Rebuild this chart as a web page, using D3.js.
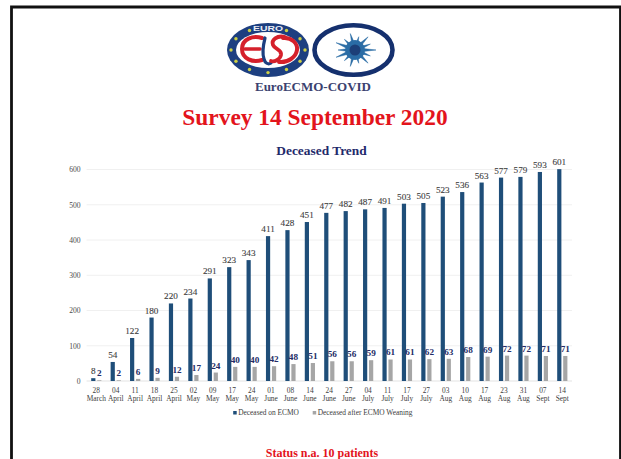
<!DOCTYPE html>
<html>
<head>
<meta charset="utf-8">
<script src="https://cdn.jsdelivr.net/npm/d3@7"></script>
<style>
html,body{margin:0;padding:0;background:#fff;overflow:hidden}
svg{display:block}
text{font-family:"Liberation Serif",serif}
</style>
</head>
<body>
<svg id="chart" width="621" height="459"></svg>
<script>
// Survey figures
const dayLabels = ["28","04","11","18","25","02","09","17","24","01","08","14","24","27","04","11","17","27","03","10","17","23","31","07","14"];
const monthLabels = ["March","April","April","April","April","May","May","May","May","June","June","June","June","June","July","July","July","July","Aug","Aug","Aug","Aug","Aug","Sept","Sept"];
const deceasedOnEcmo = [8,54,122,180,220,234,291,323,343,411,428,451,477,482,487,491,503,505,523,536,563,577,579,593,601];
const deceasedAfterWeaning = [2,2,6,9,12,17,24,40,40,42,48,51,56,56,59,61,61,62,63,68,69,72,72,71,71];
const yTicks = [0,100,200,300,400,500,600];
const seriesNames = ["Deceased on ECMO","Deceased after ECMO Weaning"];

const navy = "#1f4e79", grey = "#a6a6a6", labelNavy = "#232c66", labelGrey = "#404040";
const svg = d3.select("#chart");

// Page frame: heavy rule along the top, left and right edges
svg.append("path")
  .attr("d","M11.5 459V7H620.5V459")
  .attr("fill","none").attr("stroke","#111").attr("stroke-width",2.8);

// ELSO roundel
const logoBlue = "#1d3f80", logoRed = "#d5202b";
const euro = svg.append("g").attr("transform","translate(268,50)");
euro.append("ellipse").attr("rx",41).attr("ry",27).attr("fill",logoBlue);
euro.append("ellipse").attr("rx",32).attr("ry",18).attr("fill","#fff");
d3.range(12).forEach(i=>{
  if(i===0) return;
  const a = -Math.PI/2 + i*Math.PI*2/12;
  euro.append("circle").attr("cx",37*Math.cos(a)).attr("cy",22.6*Math.sin(a)).attr("r",1.7).attr("fill","#cdd045");
});
euro.append("text").attr("y",-18.6).attr("text-anchor","middle")
  .attr("font-size",8).attr("font-weight",700).attr("fill","#e8ecf4")
  .attr("textLength",30).attr("lengthAdjust","spacingAndGlyphs")
  .style("font-family","'Liberation Sans',sans-serif").text("EURO");
const monogram = euro.append("g").attr("fill","none").attr("stroke-linecap","round");
[
  ["M-6 -12C-15 -15 -26 -11 -26 -1C-26 9 -15 13 -6 10",logoRed,4],
  ["M-23 -1H-8",logoRed,3.6],
  ["M-3 -12C-5 -4 -6 3 -4 9C-3 13 0 15 3 13",logoBlue,3.2],
  ["M17 -13C9 -15 3 -10 5 -5C7 0 14 -1 13 5C12 10 6 12 3 11",logoRed,3.8],
  ["M15 -12C24 -13 30 -6 29 0C28 7 20 13 11 12",logoRed,4]
].forEach(([d,colour,w])=>monogram.append("path").attr("d",d).attr("stroke",colour).attr("stroke-width",w));

// Virus emblem
const virusBlue = "#2a6ca5";
const virus = svg.append("g").attr("transform","translate(353.5,50)");
virus.append("ellipse").attr("rx",39).attr("ry",24.8).attr("fill","#fff").attr("stroke","#15306e").attr("stroke-width",4.6);
d3.range(14).forEach(i=>{
  const a = i*Math.PI*2/14, r = i%2 ? 17 : 21;
  virus.append("path")
    .attr("d",`M${-2.4*Math.sin(a)} ${2.4*Math.cos(a)}L${r*Math.cos(a)} ${r*0.8*Math.sin(a)}L${2.4*Math.sin(a)} ${-2.4*Math.cos(a)}Z`)
    .attr("transform","translate(1.5,0)")
    .attr("fill",virusBlue).attr("stroke",virusBlue).attr("stroke-width",0.5);
});
virus.append("circle").attr("cx",1.5).attr("r",10).attr("fill",virusBlue);
virus.append("circle").attr("cx",1.5).attr("r",5.5).attr("fill","#1c3f78");

// Headings
svg.append("text").attr("x",313).attr("y",90.5).attr("text-anchor","middle")
  .attr("font-size",13).attr("font-weight",700).attr("fill","#3b4270").text("EuroECMO-COVID");
svg.append("text").attr("x",315).attr("y",125).attr("text-anchor","middle")
  .attr("font-size",23.4).attr("font-weight",700).attr("fill","#e3141c").text("Survey 14 September 2020");
svg.append("text").attr("x",321.5).attr("y",155).attr("text-anchor","middle")
  .attr("font-size",13.4).attr("font-weight",700).attr("fill","#1f2a6b").text("Deceased Trend");

// Scales
const x = d3.scaleBand().domain(d3.range(dayLabels.length)).range([86.6,572]);
const y = d3.scaleLinear().domain([0,600]).range([381,169.5]);
const barW = 4.2, gap = 6;
const cx = i => x(i) + x.bandwidth()/2;

// Value axis with horizontal gridlines
const yAxis = svg.append("g").attr("transform","translate(86.6,0)")
  .call(d3.axisLeft(y).tickValues(yTicks).tickSize(0).tickPadding(6));
yAxis.select(".domain").remove();
yAxis.selectAll("text").attr("font-size",7.6).attr("fill","#4a4a4a").style("font-family","'Liberation Serif',serif");
svg.append("g").selectAll("line").data(yTicks).join("line")
  .attr("x1",86.6).attr("x2",572).attr("y1",d=>y(d)).attr("y2",d=>y(d))
  .attr("stroke",d=>d===0?"#dcdcdc":"#ececec").attr("stroke-width",0.8);

// Bars
svg.append("g").selectAll("rect").data(deceasedOnEcmo).join("rect")
  .attr("x",(d,i)=>cx(i)-gap/2-barW/2).attr("width",barW)
  .attr("y",d=>y(d)).attr("height",d=>y(0)-y(d)).attr("fill",navy);
svg.append("g").selectAll("rect").data(deceasedAfterWeaning).join("rect")
  .attr("x",(d,i)=>cx(i)+gap/2-barW/2).attr("width",barW)
  .attr("y",d=>y(d)).attr("height",d=>y(0)-y(d)).attr("fill",grey);

// Value labels
svg.append("g").selectAll("text").data(deceasedOnEcmo).join("text")
  .attr("x",(d,i)=>cx(i)-gap/2).attr("y",d=>y(d)-4).attr("text-anchor","middle")
  .attr("font-size",9.2).attr("fill",labelGrey).attr("stroke",labelGrey).attr("stroke-width",0.1).text(d=>d);
svg.append("g").selectAll("text").data(deceasedAfterWeaning).join("text")
  .attr("x",(d,i)=>cx(i)+gap/2).attr("y",d=>y(d)-4).attr("text-anchor","middle")
  .attr("font-size",9.2).attr("font-weight",700).attr("fill",labelNavy).text(d=>d);

// Category labels on two lines
const cats = svg.append("g").attr("font-size",7.4).attr("fill","#404040").attr("text-anchor","middle");
cats.selectAll("text.day").data(dayLabels).join("text").attr("class","day")
  .attr("x",(d,i)=>cx(i)).attr("y",392.5).text(d=>d);
cats.selectAll("text.month").data(monthLabels).join("text").attr("class","month")
  .attr("x",(d,i)=>cx(i)).attr("y",401).text(d=>d);

// Legend
const legend = svg.append("g").attr("font-size",7.4).attr("fill","#404040");
const legendX = [233.2,312.7];
seriesNames.forEach((name,i)=>{
  legend.append("rect").attr("x",legendX[i]).attr("y",411).attr("width",3.5).attr("height",3.5).attr("fill",i?grey:navy);
  legend.append("text").attr("x",legendX[i]+5).attr("y",415).text(name);
});

// Footnote
svg.append("text").attr("x",322).attr("y",456.5).attr("text-anchor","middle")
  .attr("font-size",12).attr("font-weight",700).attr("fill","#e3141c").text("Status n.a. 10 patients");
</script>
</body>
</html>
